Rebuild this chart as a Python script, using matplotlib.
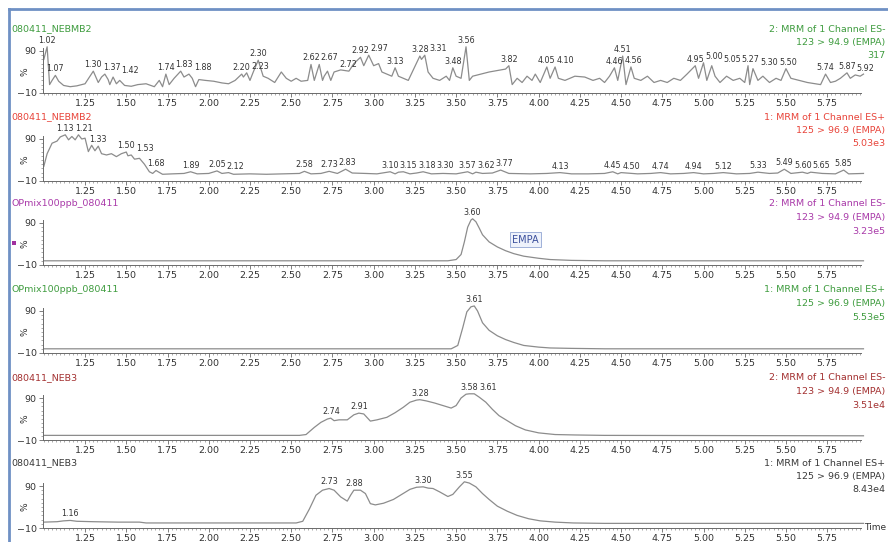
"""
Six stacked MRM chromatogram traces (MassLynx style), EMPA channels.
"""
import matplotlib
matplotlib.use("Agg")
import matplotlib.pyplot as plt
from matplotlib.lines import Line2D
from matplotlib.patches import Rectangle
from matplotlib.ticker import MultipleLocator, FixedLocator
import numpy as np

W, H, DPI = 888, 542, 100

# ---- data: retention time (min) / relative intensity (%) ----
p1_t = [1.00, 1.02, 1.035, 1.05, 1.07, 1.09, 1.12, 1.16, 1.20, 1.25, 1.28, 1.30, 1.33, 1.35,
        1.37, 1.39, 1.40, 1.42, 1.44, 1.46, 1.49, 1.53, 1.57, 1.62, 1.67, 1.70, 1.72, 1.74,
        1.76, 1.79, 1.83, 1.85, 1.88, 1.90, 1.92, 1.94, 1.98, 2.03, 2.08, 2.12, 2.16, 2.20,
        2.21, 2.23, 2.25, 2.27, 2.30, 2.33, 2.36, 2.40, 2.44, 2.47, 2.50, 2.53, 2.56, 2.60,
        2.62, 2.64, 2.67, 2.69, 2.70, 2.72, 2.74, 2.76, 2.80, 2.85, 2.88, 2.92, 2.94, 2.97,
        3.00, 3.03, 3.05, 3.08, 3.11, 3.13, 3.15, 3.18, 3.21, 3.24, 3.28, 3.29, 3.31, 3.33,
        3.36, 3.40, 3.44, 3.46, 3.48, 3.50, 3.53, 3.56, 3.58, 3.60, 3.70, 3.80, 3.82, 3.84,
        3.87, 3.90, 3.93, 3.96, 3.98, 4.01, 4.05, 4.07, 4.10, 4.12, 4.16, 4.22, 4.28, 4.33,
        4.37, 4.40, 4.43, 4.46, 4.48, 4.51, 4.53, 4.56, 4.58, 4.62, 4.66, 4.70, 4.74, 4.78,
        4.82, 4.86, 4.90, 4.95, 4.97, 5.00, 5.02, 5.05, 5.07, 5.10, 5.14, 5.18, 5.22, 5.25,
        5.27, 5.28, 5.30, 5.33, 5.36, 5.40, 5.44, 5.47, 5.50, 5.53, 5.58, 5.63, 5.68, 5.71,
        5.74, 5.77, 5.80, 5.83, 5.87, 5.89, 5.92, 5.95, 5.97]
p1_y = [70, 100, 10, 20, 32, 18, 8, 5, 7, 12, 30, 42, 15, 28,
        35, 22, 10, 28, 12, 20, 8, 6, 10, 12, 5, 20, 5, 35,
        10, 25, 42, 28, 35, 25, 5, 22, 20, 18, 14, 12, 20, 35,
        28, 38, 20, 40, 68, 30, 25, 15, 40, 25, 18, 25, 18, 20,
        58, 20, 58, 20, 30, 42, 20, 40, 45, 42, 60, 75, 55, 80,
        55, 60, 40, 35, 30, 50, 30, 25, 20, 45, 78, 70, 80, 40,
        25, 20, 30, 20, 50, 30, 25, 100, 20, 30, 40, 47, 55, 10,
        25, 15, 30, 20, 35, 15, 52, 25, 52, 25, 20, 30, 28, 20,
        25, 15, 30, 50, 20, 78, 10, 52, 25, 20, 30, 15, 20, 15,
        25, 20, 35, 55, 25, 62, 20, 55, 30, 15, 30, 20, 25, 15,
        55, 10, 48, 20, 30, 15, 25, 20, 48, 25, 20, 15, 12, 10,
        35, 15, 18, 25, 38, 25, 33, 30, 35]
p1_peaks = [1.02, 1.07, 1.30, 1.37, 1.42, 1.74, 1.83, 1.88, 2.20, 2.23, 2.30, 2.62, 2.67,
            2.72, 2.92, 2.97, 3.13, 3.28, 3.31, 3.48, 3.56, 3.82, 4.05, 4.10, 4.46, 4.51,
            4.56, 4.95, 5.00, 5.05, 5.27, 5.30, 5.50, 5.74, 5.87, 5.92]

p2_t = [1.00, 1.02, 1.05, 1.08, 1.10, 1.13, 1.15, 1.17, 1.19, 1.21, 1.23, 1.25, 1.27, 1.29,
        1.31, 1.33, 1.35, 1.38, 1.41, 1.44, 1.47, 1.50, 1.51, 1.53, 1.55, 1.58, 1.61, 1.64,
        1.66, 1.68, 1.72, 1.78, 1.85, 1.89, 1.93, 2.00, 2.05, 2.08, 2.12, 2.15, 2.25, 2.35,
        2.45, 2.55, 2.58, 2.62, 2.68, 2.73, 2.78, 2.83, 2.87, 2.95, 3.02, 3.10, 3.13, 3.15,
        3.18, 3.22, 3.26, 3.30, 3.35, 3.42, 3.50, 3.57, 3.60, 3.62, 3.66, 3.72, 3.77, 3.82,
        3.95, 4.05, 4.13, 4.20, 4.30, 4.40, 4.45, 4.48, 4.50, 4.60, 4.68, 4.74, 4.80, 4.88,
        4.94, 5.00, 5.06, 5.12, 5.20, 5.28, 5.33, 5.40, 5.45, 5.49, 5.53, 5.60, 5.63, 5.65,
        5.72, 5.80, 5.85, 5.88, 5.97]
p2_y = [25, 55, 80, 85, 95, 100, 88, 96, 88, 100, 90, 92, 60, 75,
        62, 73, 55, 52, 55, 48, 55, 59, 50, 52, 42, 44, 30, 12,
        8, 15, 6, 7, 8, 12, 7, 8, 14, 8, 10, 6, 7, 6,
        7, 8, 13, 7, 8, 13, 8, 18, 9, 8, 7, 12, 7, 11,
        12, 7, 9, 12, 7, 8, 7, 12, 7, 11, 8, 9, 16, 8,
        7, 8, 10, 7, 7, 8, 12, 7, 10, 7, 8, 10, 7, 8,
        10, 7, 8, 10, 7, 8, 11, 8, 9, 18, 8, 11, 8, 11,
        8, 7, 16, 7, 8]
p2_peaks = [1.13, 1.21, 1.33, 1.50, 1.53, 1.68, 1.89, 2.05, 2.12, 2.58, 2.73, 2.83, 3.10,
            3.15, 3.18, 3.30, 3.57, 3.62, 3.77, 4.13, 4.45, 4.50, 4.74, 4.94, 5.12, 5.33,
            5.49, 5.60, 5.65, 5.85]

p3_t = [1.00, 3.45, 3.50, 3.53, 3.55, 3.57, 3.59, 3.60, 3.62, 3.64, 3.66, 3.70, 3.75, 3.80,
        3.85, 3.91, 4.00, 4.07, 4.20, 4.40, 5.97]
p3_y = [0, 0, 3, 15, 45, 80, 97, 100, 93, 78, 62, 45, 33, 24,
        17, 11, 6, 3, 1, 0, 0]
p3_peaks = [3.60]

p4_t = [1.00, 3.47, 3.51, 3.54, 3.565, 3.59, 3.61, 3.63, 3.66, 3.70, 3.75, 3.80, 3.85, 3.91,
        4.00, 4.07, 4.20, 4.40, 5.97]
p4_y = [0, 0, 8, 50, 88, 100, 102, 90, 62, 44, 31, 22, 15, 8,
        4, 2, 1, 0, 0]
p4_peaks = [3.61]

p5_t = [1.00, 2.55, 2.59, 2.64, 2.68, 2.72, 2.74, 2.76, 2.79, 2.84, 2.88, 2.91, 2.94, 2.98,
        3.02, 3.08, 3.13, 3.18, 3.22, 3.26, 3.28, 3.32, 3.37, 3.42, 3.47, 3.50, 3.53, 3.56,
        3.58, 3.61, 3.64, 3.68, 3.72, 3.76, 3.81, 3.86, 3.92, 4.00, 4.10, 4.22, 4.40, 5.97]
p5_y = [1, 1, 3, 20, 32, 40, 42, 36, 38, 38, 50, 54, 52, 35,
        38, 44, 55, 68, 80, 85, 86, 83, 78, 72, 66, 72, 90, 99,
        100, 100, 92, 80, 63, 48, 36, 24, 14, 7, 3, 2, 1, 0]
p5_peaks = [2.74, 2.91, 3.28, 3.58, 3.61]

p6_t = [1.00, 1.08, 1.12, 1.16, 1.20, 1.30, 1.45, 1.58, 1.62, 2.00, 2.53, 2.57, 2.61, 2.65,
        2.69, 2.73, 2.76, 2.80, 2.84, 2.86, 2.88, 2.92, 2.95, 2.98, 3.01, 3.06, 3.12, 3.17,
        3.22, 3.26, 3.30, 3.33, 3.36, 3.40, 3.45, 3.48, 3.52, 3.55, 3.58, 3.62, 3.66, 3.70,
        3.75, 3.81, 3.87, 3.94, 4.01, 4.10, 4.21, 4.40, 5.97]
p6_y = [4, 5, 7, 8, 6, 5, 4, 4, 2, 2, 2, 6, 35, 68,
        80, 84, 80, 64, 54, 68, 80, 80, 72, 48, 45, 49, 58, 70,
        82, 87, 88, 85, 84, 76, 65, 70, 88, 100, 97, 88, 72, 58,
        42, 30, 20, 12, 7, 4, 2, 1, 1]
p6_peaks = [1.16, 2.73, 2.88, 3.30, 3.55]

titles = ["080411_NEBMB2", "080411_NEBMB2", "OPmix100ppb_080411",
          "OPmix100ppb_080411", "080411_NEB3", "080411_NEB3"]
channels = ["2: MRM of 1 Channel ES-", "1: MRM of 1 Channel ES+",
            "2: MRM of 1 Channel ES-", "1: MRM of 1 Channel ES+",
            "2: MRM of 1 Channel ES-", "1: MRM of 1 Channel ES+"]
transitions = ["123 > 94.9 (EMPA)", "125 > 96.9 (EMPA)", "123 > 94.9 (EMPA)",
               "125 > 96.9 (EMPA)", "123 > 94.9 (EMPA)", "125 > 96.9 (EMPA)"]
intensities = ["317", "5.03e3", "3.23e5", "5.53e5", "3.51e4", "8.43e4"]

traces = [(p1_t, p1_y, p1_peaks), (p2_t, p2_y, p2_peaks), (p3_t, p3_y, p3_peaks),
          (p4_t, p4_y, p4_peaks), (p5_t, p5_y, p5_peaks), (p6_t, p6_y, p6_peaks)]

# ---- layout (pixels) ----
COLORS = ["#3f9c3f", "#e8443a", "#a93aa9", "#3f9c3f", "#a33030", "#3a3a3a"]
AXIS_Y = [93, 181, 265, 353, 440, 528]      # pixel row of the -10 line
TITLE_Y = [29, 117, 204, 290, 378, 463]
RIGHT_X = 885
AX_LEFT, AX_RIGHT = 43, 861
PX_PER_PCT = 0.42
YMIN, YMAX = -10, 112
TRACE_C = "#8c8c8c"
TEXT_C = "#333333"
AXIS_C = "#6a6a6a"

plt.rcParams["font.family"] = ["DejaVu Sans"]


def fx(px):
    return px / W


def fy(py):
    return 1 - py / H


def label_peaks(ax, t, y, peaks, fs=5.8):
    ys = np.interp(peaks, t, y)
    pts = ax.transData.transform(np.column_stack([peaks, ys]))
    placed = []
    for (tt, yy), (px, py) in zip(zip(peaks, ys), pts):
        w = 18.5
        cx = px
        for qx, qy in placed:
            if abs(qy - py) < 9 and cx - qx < w:
                cx = qx + w
        placed.append((cx, py))
        ax.annotate(f"{tt:.2f}", xy=(tt, yy), xytext=((cx - px) * 72 / DPI, 1.5),
                    textcoords="offset points", ha="center", va="bottom",
                    fontsize=fs, color=TEXT_C, annotation_clip=False)


fig = plt.figure(figsize=(W / DPI, H / DPI), dpi=DPI)
h_px = (YMAX - YMIN) * PX_PER_PCT

for i, (t, y, peaks) in enumerate(traces):
    ax = fig.add_axes([fx(AX_LEFT), fy(AXIS_Y[i]), fx(AX_RIGHT - AX_LEFT), h_px / H])
    ax.set_facecolor("none")
    ax.plot(t, y, color=TRACE_C, lw=0.9, clip_on=False)
    ax.set_xlim(0.995, 5.955)
    ax.set_ylim(YMIN, YMAX)
    for s in ("top", "right"):
        ax.spines[s].set_visible(False)
    ax.spines["left"].set_bounds(-10, 98)
    for s in ("left", "bottom"):
        ax.spines[s].set_color(AXIS_C)
        ax.spines[s].set_linewidth(0.7)
    ax.xaxis.set_major_locator(FixedLocator(np.arange(1.25, 5.8, 0.25)))
    ax.xaxis.set_minor_locator(MultipleLocator(0.025))
    ax.yaxis.set_major_locator(FixedLocator([-10, 90]))
    ax.yaxis.set_minor_locator(FixedLocator(np.arange(0, 95, 10)))
    ax.set_xticklabels([f"{v:.2f}" for v in np.arange(1.25, 5.8, 0.25)])
    ax.set_yticklabels(["\u221210", "90"])
    ax.tick_params(axis="both", which="major", labelsize=6.8, labelcolor=TEXT_C,
                   color=AXIS_C, length=3, width=0.6, pad=1.5)
    ax.tick_params(axis="both", which="minor", color=AXIS_C, length=1.6, width=0.4)
    ax.set_ylabel("%", fontsize=6.5, color=TEXT_C, rotation=90)
    ax.yaxis.set_label_coords(-0.017, 0.42)
    label_peaks(ax, t, y, peaks)

    c = COLORS[i]
    fig.text(fx(11), fy(TITLE_Y[i]), titles[i], fontsize=6.8, color=c, va="center")
    for k, s in enumerate([channels[i], transitions[i], intensities[i]]):
        fig.text(fx(RIGHT_X), fy(TITLE_Y[i] + 13.5 * k), s, fontsize=6.8, color=c,
                 ha="right", va="center")

    if i == 2:
        ax.text(3.92, 50, "EMPA", fontsize=7, color="#3b4f9c", ha="center", va="center",
                bbox=dict(boxstyle="square,pad=0.25", fc="#eef2fb", ec="#9fb0d8", lw=0.7))

# purple marker beside panel 3, "Time" label, blue window frame
fig.add_artist(Rectangle((fx(12), fy(245)), 4 / W, 4 / H, transform=fig.transFigure,
                         color="#a0309f", lw=0))
fig.text(fx(864), fy(527), "Time", fontsize=6.5, color=TEXT_C, va="center")
fig.add_artist(Line2D([fx(9), fx(9)], [fy(9), 0], transform=fig.transFigure,
                      color="#6f90c4", lw=2))
fig.add_artist(Line2D([fx(9), 1], [fy(9), fy(9)], transform=fig.transFigure,
                      color="#6f90c4", lw=2))

fig.savefig("out.png", dpi=DPI)
